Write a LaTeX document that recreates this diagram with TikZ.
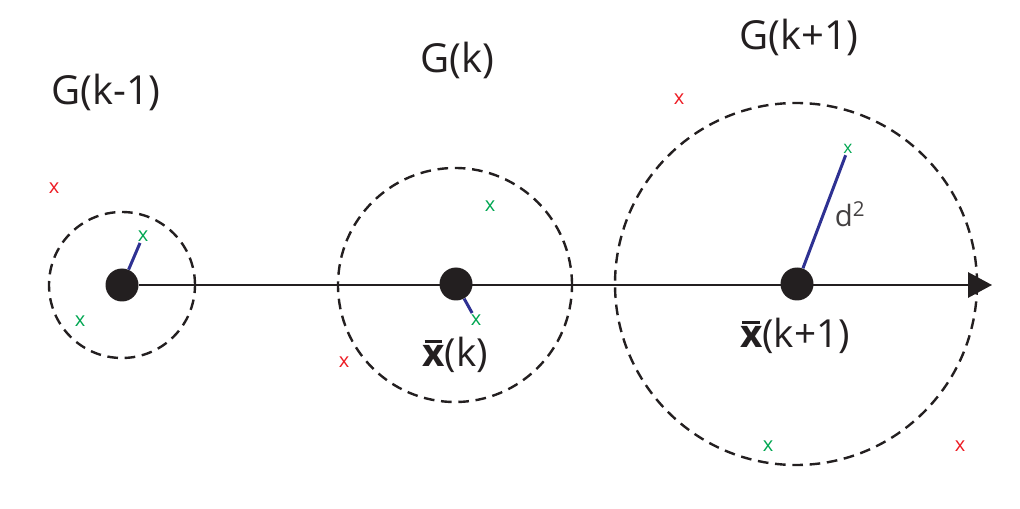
\documentclass[tikz,border=0pt]{standalone}
\usepackage{fontspec}
\setmainfont{Open Sans}
\usetikzlibrary{arrows.meta}
\definecolor{markred}{RGB}{237,28,36}
\definecolor{markgreen}{RGB}{0,166,81}
\definecolor{distblue}{RGB}{46,49,146}
\definecolor{inkblack}{RGB}{35,31,32}
\newcommand{\meanx}{\textbf{\ooalign{x\cr\hidewidth\rule[0.62em]{0.46em}{0.08em}\hidewidth\cr}}}
\tikzset{
  dot/.style={circle, fill=inkblack, minimum size=24.75pt, inner sep=0pt},
  region/.style={circle, draw=inkblack, line width=1.8pt, dash pattern=on 8pt off 5pt,
    inner sep=0pt},
  outlier/.style={text=markred, font=\fontsize{15}{15}\selectfont, inner sep=1pt},
  inlier/.style={text=markgreen, font=\fontsize{15}{15}\selectfont, inner sep=1pt},
  glabel/.style={text=inkblack, font=\fontsize{30}{32}\selectfont, inner sep=0pt},
  meanlabel/.style={text=inkblack, font=\fontsize{29}{31}\selectfont, inner sep=0pt},
  axis/.style={-{Triangle[length=18pt, width=19pt]}, line width=1.5pt, inkblack},
  dist/.style={distblue, line width=2.25pt},
}

\begin{document}
\begin{tikzpicture}[x=0.75pt, y=-0.75pt]
  \useasboundingbox (0,0) rectangle (1020,509);

  % regions around the means
  \node[region, minimum size=109.5pt] (r1) at (122,285) {};
  \node[region, minimum size=175.5pt] (r2) at (455,285) {};
  \node[region, minimum size=271.5pt] (r3) at (796,284) {};

  % axis and means
  \node[dot] (c1) at (122,285) {};
  \coordinate (tip) at (992,285);
  \draw[axis] (c1) -- (tip);
  \node[dot] (c2) at (456,284) {};
  \node[dot] (c3) at (797,284) {};

  % samples
  \node[outlier] (o1) at (54,188) {x};
  \node[outlier] (o2) at (344,362) {x};
  \node[outlier] (o3) at (679,99) {x};
  \node[outlier] (o4) at (960,446) {x};
  \node[inlier] (g1) at (143,236) {x};
  \node[inlier] (g2) at (80,321) {x};
  \node[inlier] (g3) at (490,206) {x};
  \node[inlier] (g4) at (476,320) {x};
  \node[inlier, font=\fontsize{13}{13}\selectfont] (g5) at (848,149) {x};
  \node[inlier] (g6) at (768,446) {x};

  \draw[dist] (c1) -- (g1);
  \draw[dist] (c2) -- (g4);
  \draw[dist] (c3) -- (g5);

  % labels
  \node[glabel] (l1) at (106,92) {G(k-1)};
  \node[glabel] (l2) at (457,60) {G(k)};
  \node[glabel] (l3) at (799,37) {G(k+1)};
  \node[meanlabel] (m2) at (455,355) {\meanx(k)};
  \node[meanlabel] (m3) at (795,336) {\meanx(k+1)};
  \node[text=inkblack!85, font=\fontsize{22}{23}\selectfont] (d) at (850,214) {d\textsuperscript{2}};
\end{tikzpicture}
\end{document}
